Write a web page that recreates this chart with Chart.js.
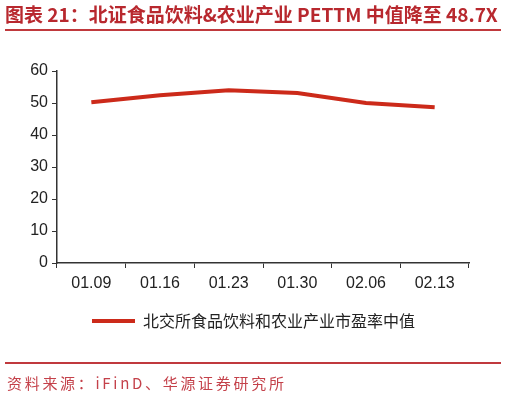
<!DOCTYPE html>
<html>
<head>
<meta charset="utf-8">
<script src="https://cdn.jsdelivr.net/npm/chart.js@4.4.1/dist/chart.umd.min.js"></script>
<style>
    html, body {margin: 0; padding: 0; background: #fff;}
    #wrap {position: relative; width: 507px; height: 396px; overflow: hidden;}
    #pe {position: absolute; left: 0; top: 0;}
    .title {
        position: absolute; left: 5px; top: 3px;
        font-family: "Noto Sans CJK SC", sans-serif; font-weight: bold;
        font-size: 19px; line-height: 22px; color: #b8282e; white-space: nowrap;
    }
    .rule {position: absolute; left: 5px; width: 496px; height: 2px; background: #c0393d;}
    .source {
        position: absolute; left: 7px; top: 374px;
        font-family: "Noto Sans CJK SC", sans-serif;
        font-size: 15px; line-height: 18px; color: #c4414a; letter-spacing: 2.7px; white-space: nowrap;
    }
</style>
</head>
<body>
<div id="wrap">
    <canvas id="pe" width="507" height="396"></canvas>
    <div class="title">图表 21：北证食品饮料&amp;农业产业 PETTM 中值降至 48.7X</div>
    <div class="rule" style="top: 29px;"></div>
    <div class="rule" style="top: 362px;"></div>
    <div class="source">资料来源：iFinD、华源证券研究所</div>
</div>
<script>
const weeks = ['01.09', '01.16', '01.23', '01.30', '02.06', '02.13'];
const peMedian = [50.2, 52.4, 54.0, 53.1, 50.0, 48.7];
const seriesName = '北交所食品饮料和农业产业市盈率中值';

const tickFont = {family: "'Liberation Sans', Arial, sans-serif", size: 16};
const lineRed = "#cc2a1a";

new Chart(document.getElementById("pe"), {
    type: 'line',
    data: {
        labels: weeks,
        datasets: [{
            label: seriesName,
            data: peMedian,
            borderColor: lineRed,
            backgroundColor: lineRed,
            borderWidth: 4,
            pointRadius: 0,
            tension: 0,
            fill: false
        }]
    },
    options: {
        responsive: false,
        animation: false,
        layout: {
            padding: {top: 71, right: 0, bottom: 57, left: 0}
        },
        scales: {
            x: {
                offset: true,
                grid: {offset: true, drawOnChartArea: false, drawTicks: true, tickLength: 5, color: '#333'},
                border: {display: true, color: '#333', width: 1.5},
                ticks: {color: '#222', font: tickFont, padding: 6, maxRotation: 0},
                afterFit: function (s) { s.height = 40; }
            },
            y: {
                min: 0,
                max: 60,
                grid: {drawOnChartArea: false, drawTicks: true, tickLength: 5, color: '#333'},
                border: {display: true, color: '#333', width: 1.5},
                ticks: {stepSize: 10, color: '#222', font: tickFont, padding: 4},
                afterFit: function (s) { s.width = 57; }
            },
            // empty spacer on the right so the legend stays centred on the page
            spacer: {
                type: 'linear',
                position: 'right',
                grid: {display: false},
                border: {display: false},
                ticks: {display: false},
                afterFit: function (s) { s.width = 38; }
            }
        },
        plugins: {
            legend: {
                position: 'bottom',
                labels: {
                    boxWidth: 43,
                    boxHeight: 4,
                    padding: 10,
                    color: '#222',
                    font: {family: "'Noto Sans CJK SC', sans-serif", size: 16},
                    generateLabels: function (chart) {
                        return Chart.defaults.plugins.legend.labels.generateLabels(chart).map(function (l) {
                            l.lineWidth = 0;
                            return l;
                        });
                    }
                }
            },
            tooltip: {enabled: false}
        }
    }
});
</script>
</body>
</html>
